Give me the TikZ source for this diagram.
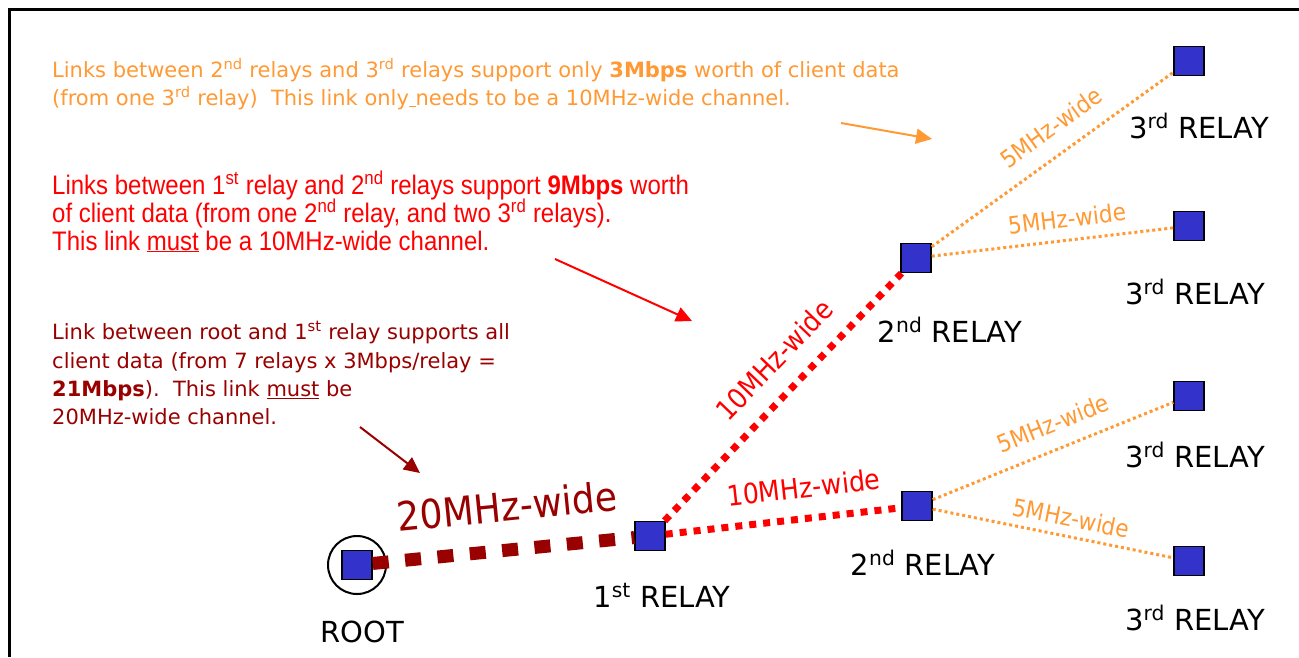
\documentclass[tikz,border=0pt]{standalone}
\usepackage{fontspec}
\setmainfont{Liberation Sans}
\newfontfamily\tah[FakeStretch=0.9]{DejaVu Sans}
\newfontfamily\dvs{DejaVu Sans}
\newfontfamily\nar[FakeStretch=0.895]{Liberation Sans}
\usetikzlibrary{arrows.meta}
\definecolor{orng}{HTML}{FF9933}
\definecolor{rd}{HTML}{FF0000}
\definecolor{drd}{HTML}{990000}
\definecolor{blu}{HTML}{3333CC}
\newcommand\lblfont{\dvs\fontsize{29}{32}\selectfont}
\newcommand\notefont{\dvs\fontsize{21}{28}\selectfont}
\newcommand\narfont{\nar\fontsize{26.8}{28}\selectfont}
\begin{document}
\begin{tikzpicture}[x=1pt,y=-1pt,
  relay/.style={draw=black,line width=1.5pt,fill=blu,minimum width=30pt,minimum height=29pt,inner sep=0pt},
  rlbl/.style={font=\lblfont,inner sep=0pt,anchor=base},
  txt/.style={inner sep=0pt,anchor=base west},
  linkA/.style={drd,line width=13pt,dash pattern=on 16pt off 16.5pt},
  linkB/.style={rd,line width=7pt,dash pattern=on 7pt off 7pt},
  linkC/.style={orng,line width=3pt,dash pattern=on 3pt off 3pt},
  note/.style={line width=2pt,-{Triangle[length=16pt,width=15pt]}},
  wlbl/.style={inner sep=0pt,sloped}
]
\useasboundingbox (0,0) rectangle (1299,657);
\draw[line width=3pt] (9,657) -- (9,9) -- (1299,9);

% nodes
\node[draw=black,line width=2pt,circle,minimum size=58pt,inner sep=0pt] (ring) at (357,565) {};
\node[relay] (root) at (357,565) {};
\node[relay] (r1) at (650,536) {};
\node[relay] (r2a) at (916,258) {};
\node[relay] (r2b) at (917,506) {};
\node[relay] (r3a) at (1189,61) {};
\node[relay] (r3b) at (1189,226) {};
\node[relay] (r3c) at (1189,396) {};
\node[relay] (r3d) at (1189,561) {};

% links
\draw[linkA] (root) -- (r1) node[wlbl,pos=0.53,above=22pt,text=drd,font=\tah\fontsize{40}{42}\selectfont] (w20) {20MHz-wide};
\draw[linkB] (r1) -- (r2a) node[wlbl,pos=0.56,above=18pt,text=rd,font=\tah\fontsize{28}{30}\selectfont] (w10a) {10MHz-wide};
\draw[linkB] (r1) -- (r2b) node[wlbl,pos=0.6,above=17pt,text=rd,font=\tah\fontsize{28}{30}\selectfont] (w10b) {10MHz-wide};
\draw[linkC] (r2a) -- (r3a) node[wlbl,pos=0.56,above=16pt,text=orng,font=\tah\fontsize{24}{26}\selectfont] (w5a) {5MHz-wide};
\draw[linkC] (r2a) -- (r3b) node[wlbl,pos=0.57,above=11pt,text=orng,font=\tah\fontsize{24}{26}\selectfont] (w5b) {5MHz-wide};
\draw[linkC] (r2b) -- (r3c) node[wlbl,pos=0.54,above=15pt,text=orng,font=\tah\fontsize{24}{26}\selectfont] (w5c) {5MHz-wide};
\draw[linkC] (r2b) -- (r3d) node[wlbl,pos=0.56,above=8pt,text=orng,font=\tah\fontsize{24}{26}\selectfont] (w5d) {5MHz-wide};

% relay labels
\node[rlbl] (t0) at (362,642) {ROOT};
\node[rlbl] (t1) at (662,607) {1\textsuperscript{st} RELAY};
\node[rlbl] (t2a) at (950,342) {2\textsuperscript{nd} RELAY};
\node[rlbl] (t2b) at (923,575) {2\textsuperscript{nd} RELAY};
\node[rlbl] (t3a) at (1199,138) {3\textsuperscript{rd} RELAY};
\node[rlbl] (t3b) at (1195,304) {3\textsuperscript{rd} RELAY};
\node[rlbl] (t3c) at (1195,467) {3\textsuperscript{rd} RELAY};
\node[rlbl] (t3d) at (1195,630) {3\textsuperscript{rd} RELAY};

% orange note
\node[txt,text=orng,font=\notefont] (o1) at (52,77) {Links between 2\textsuperscript{nd} relays and 3\textsuperscript{rd} relays support only \textbf{3Mbps} worth of client data};
\node[txt,text=orng,font=\notefont] (o2) at (52,105) {(from one 3\textsuperscript{rd} relay)\ \ This link only\underline{\ }needs to be a 10MHz-wide channel.};
\coordinate (oa1) at (841,123);
\coordinate (oa2) at (932,139);
\draw[note,orng] (oa1) -- (oa2);

% red note
\node[txt,text=rd,font=\narfont] (m1) at (52,194) {Links between 1\textsuperscript{st} relay and 2\textsuperscript{nd} relays support \textbf{9Mbps} worth};
\node[txt,text=rd,font=\narfont] (m2) at (52,222) {of client data (from one 2\textsuperscript{nd} relay, and two 3\textsuperscript{rd} relays).};
\node[txt,text=rd,font=\narfont] (m3) at (52,250) {This link \underline{must} be a 10MHz-wide channel.};
\coordinate (ra1) at (555,259);
\coordinate (ra2) at (692,321);
\draw[note,rd] (ra1) -- (ra2);

% dark red note
\node[txt,text=drd,font=\notefont] (d1) at (52,339) {Link between root and 1\textsuperscript{st} relay supports all};
\node[txt,text=drd,font=\notefont] (d2) at (52,368) {client data (from 7 relays x 3Mbps/relay =};
\node[txt,text=drd,font=\notefont] (d3) at (52,396) {\textbf{21Mbps}).\ \ This link \underline{must} be};
\node[txt,text=drd,font=\notefont] (d4) at (52,424) {20MHz-wide channel.};
\coordinate (da1) at (360,427);
\coordinate (da2) at (420,473);
\draw[note,drd] (da1) -- (da2);
\end{tikzpicture}
\end{document}
